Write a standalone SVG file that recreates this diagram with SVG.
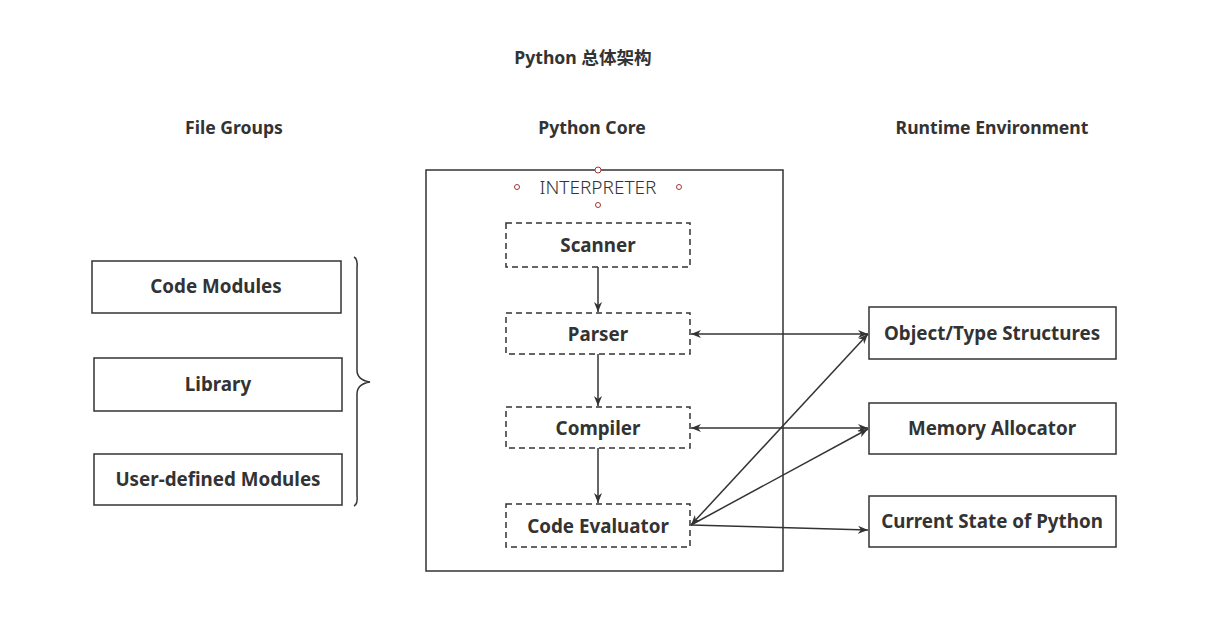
<svg xmlns="http://www.w3.org/2000/svg" width="1224" height="635" viewBox="0 0 1224 635">
<style>
text{font-family:"Noto Sans","Open Sans","Noto Sans CJK SC",sans-serif;fill:#333;text-anchor:middle}
.h{font-size:17.6px;font-weight:bold}
.n{font-size:18.8px;font-weight:bold}
.box{fill:#fff;stroke:#333;stroke-width:1.5}
.dash{fill:#fff;stroke:#333;stroke-width:1.5;stroke-dasharray:6 4}
.c{stroke:#333;stroke-width:1.5;fill:none}
.pt{fill:#fff;stroke:#a33;stroke-width:1}
</style>
<defs>
<marker id="a" viewBox="0 0 10 10" refX="10" refY="5" markerWidth="10" markerHeight="10" markerUnits="userSpaceOnUse" orient="auto-start-reverse"><path d="M0,1 L10,5 L0,9 L3,5 Z" fill="#333"/></marker>
</defs>
<rect width="1224" height="635" fill="#fff"/>
<g id="titles">
<text class="h" x="583" y="64">Python 总体架构</text>
<text class="h" x="234" y="134">File Groups</text>
<text class="h" x="592" y="134">Python Core</text>
<text class="h" x="992" y="134">Runtime Environment</text>
</g>
<g id="interpreter">
<rect class="box" x="426" y="170" width="357" height="401" fill="none"/>
<text x="598" y="194" style="font-size:19px;font-weight:300">INTERPRETER</text>
<circle class="pt" cx="598" cy="170" r="3"/>
<circle class="pt" cx="517" cy="187" r="2.5"/>
<circle class="pt" cx="679" cy="187" r="2.5"/>
<circle class="pt" cx="598" cy="205" r="2.5"/>
</g>
<g id="scanner"><rect class="dash" x="506" y="223" width="184" height="44"/><text class="n" x="598" y="252">Scanner</text></g>
<g id="parser"><rect class="dash" x="506" y="313" width="184" height="41"/><text class="n" x="598" y="341">Parser</text></g>
<g id="compiler"><rect class="dash" x="506" y="407" width="184" height="41"/><text class="n" x="598" y="435">Compiler</text></g>
<g id="evaluator"><rect class="dash" x="506" y="504" width="184" height="43"/><text class="n" x="598" y="533">Code Evaluator</text></g>
<g id="code-modules"><rect class="box" x="92" y="261" width="249" height="52"/><text class="n" x="216" y="293">Code Modules</text></g>
<g id="library"><rect class="box" x="94" y="358" width="248" height="53"/><text class="n" x="218" y="391">Library</text></g>
<g id="user-modules"><rect class="box" x="94" y="454" width="248" height="51"/><text class="n" x="218" y="486">User-defined Modules</text></g>
<g id="object-type"><rect class="box" x="869" y="307" width="247" height="52"/><text class="n" x="992" y="340">Object/Type Structures</text></g>
<g id="memory"><rect class="box" x="869" y="403" width="247" height="51"/><text class="n" x="992" y="435">Memory Allocator</text></g>
<g id="state"><rect class="box" x="869" y="496" width="247" height="51"/><text class="n" x="992" y="528">Current State of Python</text></g>
<g id="brace"><path class="c" d="M354,257 Q358,259 357,268 L357,370 Q357,380 370,382 Q357,384 357,394 L357,495 Q358,504 354,506"/></g>
<g id="connectors">
<line class="c" x1="598" y1="267" x2="598" y2="312" marker-end="url(#a)"/>
<line class="c" x1="598" y1="354" x2="598" y2="406" marker-end="url(#a)"/>
<line class="c" x1="598" y1="448" x2="598" y2="503" marker-end="url(#a)"/>
<line class="c" x1="691" y1="334" x2="868" y2="334" marker-start="url(#a)" marker-end="url(#a)"/>
<line class="c" x1="691" y1="428" x2="868" y2="428" marker-start="url(#a)" marker-end="url(#a)"/>
<line class="c" x1="691" y1="525" x2="868" y2="334" marker-start="url(#a)" marker-end="url(#a)"/>
<line class="c" x1="691" y1="525" x2="868" y2="429" marker-end="url(#a)"/>
<line class="c" x1="691" y1="525" x2="868" y2="530" marker-end="url(#a)"/>
</g>
</svg>
